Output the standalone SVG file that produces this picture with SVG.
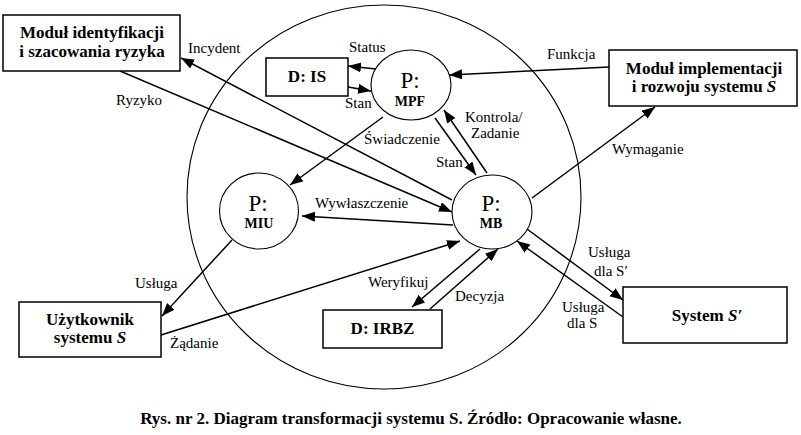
<svg xmlns="http://www.w3.org/2000/svg" width="801" height="435" viewBox="0 0 801 435">
<style>
text{font-family:"Liberation Serif","Times New Roman",serif;fill:#000}
.lbl{font-size:15px}
.bx{font-size:17px;font-weight:bold;text-anchor:middle}
.p{font-size:23px;text-anchor:middle}
.pn{font-size:14px;font-weight:bold;text-anchor:middle}
.box{fill:#fff;stroke:#000;stroke-width:1.5}
.proc{fill:#fff;stroke:#000;stroke-width:1.1}
.c line{stroke:#000;stroke-width:1.5;marker-end:url(#ah)}
</style>
<defs>
<marker id="ah" markerUnits="userSpaceOnUse" markerWidth="14" markerHeight="11" refX="13" refY="5" orient="auto">
<path d="M0,0 L13,5 L0,10 z" fill="#000"/>
</marker>
</defs>
<rect width="801" height="435" fill="#fff"/>
<ellipse id="system" cx="384" cy="197" rx="197" ry="192" fill="none" stroke="#000" stroke-width="1.1"/>
<g class="c" id="connectors">
<line x1="452" y1="200" x2="181" y2="58"/>
<line x1="120" y1="71" x2="452" y2="212"/>
<line x1="376" y1="69" x2="348" y2="66"/>
<line x1="348" y1="87" x2="371" y2="91"/>
<line x1="609" y1="67" x2="449" y2="75"/>
<line x1="383" y1="117" x2="290" y2="185"/>
<line x1="435" y1="118" x2="476" y2="175"/>
<line x1="487" y1="173" x2="444" y2="110"/>
<line x1="532" y1="198" x2="655" y2="107"/>
<line x1="453" y1="225" x2="302" y2="216"/>
<line x1="232" y1="240" x2="162" y2="316"/>
<line x1="161" y1="335" x2="460" y2="241"/>
<line x1="480" y1="249" x2="412" y2="307"/>
<line x1="430" y1="309" x2="498" y2="249"/>
<line x1="527" y1="229" x2="623" y2="300"/>
<line x1="623" y1="317" x2="517" y2="241"/>
</g>
<g id="labels" class="lbl">
<text x="188" y="53">Incydent</text>
<text x="116" y="105">Ryzyko</text>
<text x="349" y="52">Status</text>
<text x="345" y="108">Stan</text>
<text x="547" y="59">Funkcja</text>
<text x="364" y="144">Świadczenie</text>
<text x="436" y="167">Stan</text>
<text x="465" y="122">Kontrola/</text>
<text x="471" y="138">Zadanie</text>
<text x="612" y="154">Wymaganie</text>
<text x="315" y="208">Wywłaszczenie</text>
<text x="135" y="288">Usługa</text>
<text x="170" y="348">Żądanie</text>
<text x="368" y="287">Weryfikuj</text>
<text x="455" y="301">Decyzja</text>
<text x="588" y="257">Usługa</text>
<text x="594" y="276">dla S′</text>
<text x="562" y="312">Usługa</text>
<text x="567" y="328">dla S</text>
</g>
<g id="mod-ident">
<rect class="box" x="3" y="15" width="177" height="56"/>
<text class="bx" x="92" y="38">Moduł identyfikacji</text>
<text class="bx" x="92" y="57">i szacowania ryzyka</text>
</g>
<g id="mod-impl">
<rect class="box" x="609" y="50" width="188" height="56"/>
<text class="bx" x="704" y="74">Moduł implementacji</text>
<text class="bx" x="704" y="92">i rozwoju systemu <tspan font-style="italic">S</tspan></text>
</g>
<g id="uzytkownik">
<rect class="box" x="19" y="302" width="142" height="55"/>
<text class="bx" x="90" y="325">Użytkownik</text>
<text class="bx" x="90" y="343">systemu <tspan font-style="italic">S</tspan></text>
</g>
<g id="d-is">
<rect class="box" x="266" y="58" width="82" height="38"/>
<text class="bx" x="307" y="82">D: IS</text>
</g>
<g id="d-irbz">
<rect class="box" x="323" y="310" width="119" height="38"/>
<text class="bx" x="382.5" y="334">D: IRBZ</text>
</g>
<g id="system-s2">
<rect class="box" x="623" y="287" width="164" height="56"/>
<text class="bx" x="707" y="321">System <tspan font-style="italic">S′</tspan></text>
</g>
<g id="p-mpf">
<ellipse class="proc" cx="411" cy="85" rx="40" ry="35"/>
<text class="p" x="410" y="88">P:</text>
<text class="pn" x="410" y="106">MPF</text>
</g>
<g id="p-miu">
<ellipse class="proc" cx="259" cy="211" rx="39.5" ry="38"/>
<text class="p" x="258" y="211">P:</text>
<text class="pn" x="259" y="228">MIU</text>
</g>
<g id="p-mb">
<ellipse class="proc" cx="492" cy="212" rx="40" ry="37"/>
<text class="p" x="491" y="211">P:</text>
<text class="pn" x="491" y="228">MB</text>
</g>
<text id="caption" x="411" y="424" font-size="17" font-weight="bold" text-anchor="middle">Rys. nr 2. Diagram transformacji systemu S. Źródło: Opracowanie własne.</text>
</svg>
